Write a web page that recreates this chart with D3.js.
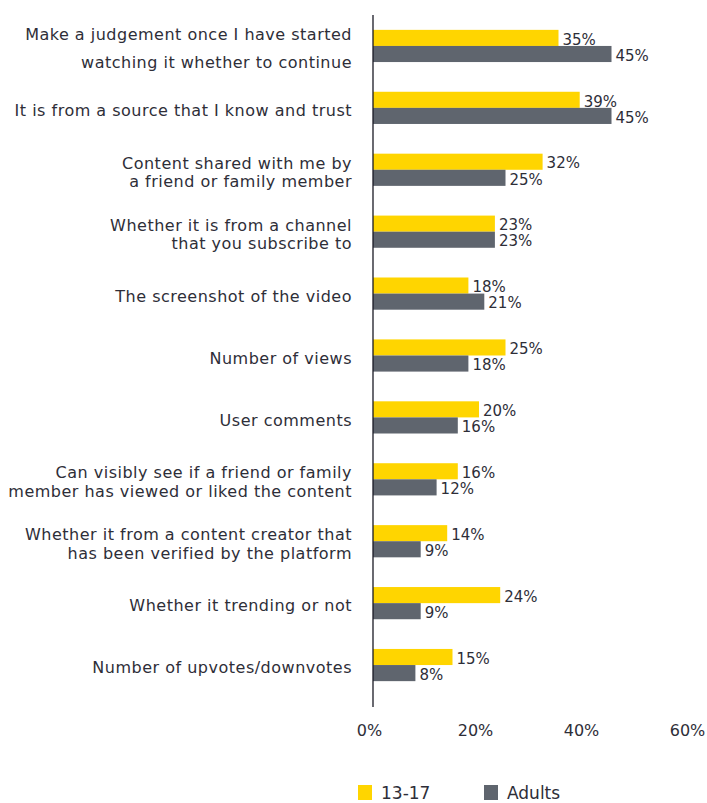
<!DOCTYPE html>
<html>
<head>
<meta charset="utf-8">
<script src="https://cdn.jsdelivr.net/npm/d3@7"></script>
<style>
  html, body { margin: 0; padding: 0; background: #fff; }
  svg { display: block; }
  text { font-family: "DejaVu Sans", sans-serif; fill: #2e2e38; }
</style>
</head>
<body>
<svg id="chart" width="707" height="803"></svg>
<script>
const categories = [
  "Make a judgement once I have started\nwatching it whether to continue",
  "It is from a source that I know and trust",
  "Content shared with me by\na friend or family member",
  "Whether it is from a channel\nthat you subscribe to",
  "The screenshot of the video",
  "Number of views",
  "User comments",
  "Can visibly see if a friend or family\nmember has viewed or liked the content",
  "Whether it from a content creator that\nhas been verified by the platform",
  "Whether it trending or not",
  "Number of upvotes/downvotes"
];
const seriesNames = ["13-17", "Adults"];
const teens  = [35, 39, 32, 23, 18, 25, 20, 16, 14, 24, 15];
const adults = [45, 45, 25, 23, 21, 18, 16, 12, 9, 9, 8];
const xTicks = [0, 20, 40, 60];
const colors = ["#FFD500", "#5F656E"];

const svg = d3.select("#chart");
const x = d3.scaleLinear().domain([0, 60]).range([373, 691]);
const y = d3.scaleBand().domain(categories).range([15, 696]).paddingInner(0.48).paddingOuter(0.24);
const sub = d3.scaleBand().domain(seriesNames).range([0, y.bandwidth()]);

const data = categories.map((c, i) => ({ c, vals: [teens[i], adults[i]] }));

const g = svg.append("g");
const groups = g.selectAll("g.grp").data(data).join("g")
  .attr("transform", d => `translate(0,${y(d.c)})`);

groups.selectAll("rect").data(d => d.vals.map((v, k) => ({ v, k })))
  .join("rect")
  .attr("x", x(0))
  .attr("y", d => sub(seriesNames[d.k]))
  .attr("width", d => x(d.v) - x(0))
  .attr("height", sub.bandwidth())
  .attr("fill", d => colors[d.k]);

groups.selectAll("text.val").data(d => d.vals.map((v, k) => ({ v, k })))
  .join("text")
  .attr("class", "val")
  .attr("x", d => x(d.v) + 4)
  .attr("y", d => sub(seriesNames[d.k]) + sub.bandwidth() / 2 + 1.5)
  .attr("dy", "0.35em")
  .attr("font-size", 15)
  .text(d => d.v + "%");

// category labels
groups.append("text")
  .attr("class", "cat")
  .attr("text-anchor", "end")
  .attr("font-size", 16)
  .attr("letter-spacing", 0.5)
  .each(function(d, i) {
    const lines = d.c.split("\n");
    const lh = i === 0 ? 28 : 18.5;
    const mid = y.bandwidth() / 2 + 2.5;
    lines.forEach((ln, j) => {
      d3.select(this).append("tspan")
        .attr("x", 352)
        .attr("y", mid + (j - (lines.length - 1) / 2) * lh)
        .attr("dy", "0.35em")
        .text(ln);
    });
  });

// vertical axis line
g.append("line")
  .attr("x1", x(0)).attr("x2", x(0))
  .attr("y1", 15).attr("y2", 707)
  .attr("stroke", "#1a1a24").attr("stroke-width", 1.3);

// x tick labels
const xAxis = d3.axisBottom(x).tickValues(xTicks).tickFormat(d => d + "%").tickSize(0).tickPadding(0);
const ax = svg.append("g").attr("transform", "translate(-4,725)").call(xAxis);
ax.select(".domain").remove();
ax.selectAll("text").attr("font-size", 16).attr("fill", "#2e2e38").style("font-family", '"DejaVu Sans", sans-serif');

// legend
const legend = svg.append("g").attr("transform", "translate(358,785)");
const li = legend.selectAll("g").data(seriesNames).join("g")
  .attr("transform", (d, i) => `translate(${i * 126},0)`);
li.append("rect").attr("width", 14).attr("height", 15).attr("fill", (d, i) => colors[i]);
li.append("text").attr("x", 23).attr("y", 8).attr("dy", "0.35em").attr("font-size", 17).text(d => d);
</script>
</body>
</html>
